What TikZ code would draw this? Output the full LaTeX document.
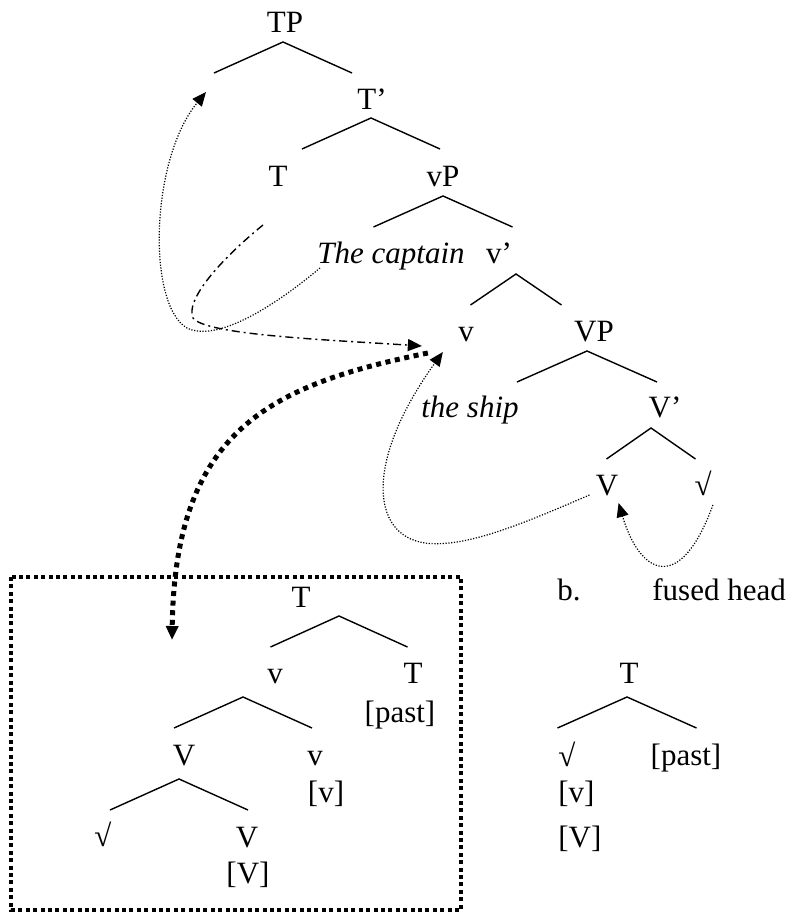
\documentclass[tikz,border=0pt]{standalone}
\usepackage{fontspec}
\setmainfont{Liberation Serif}
\usetikzlibrary{calc,arrows.meta}
\tikzset{
  every node/.style={anchor=base, inner sep=0pt},
  branchline/.style={line width=0.7pt},
  trace/.style={line width=0.6pt, dash pattern=on 0.6pt off 0.8pt},
  dashdot/.style={line width=0.7pt, dash pattern=on 4pt off 2pt on 1pt off 2pt},
  thickdots/.style={line width=2.5pt, dash pattern=on 2.5pt off 2.3pt},
  framebox/.style={line width=2pt, dash pattern=on 2pt off 1.7pt},
}
% #1 node, #2/#3 shift of the top from its base, #4 half width
\newcommand{\branch}[4]{%
  \draw[branchline] ($(#1.base)+(#2-#4,#3+31)$) -- ($(#1.base)+(#2,#3)$) -- ($(#1.base)+(#2+#4,#3+31)$);}
\begin{document}
\begin{tikzpicture}[x=0.5pt, y=-0.5pt, font=\fontsize{15.5}{18}\selectfont,
  >={Triangle[length=7pt,width=6pt]}]
  \useasboundingbox (0,0) rectangle (790,913);
  % a. tree
  \node (TP) at (285,33) {TP};
  \node (Tbar) at (372,110) {T'};
  \node (T) at (278,187) {T};
  \node (vP) at (443,187) {vP};
  \node (captain) at (391,264) {\itshape The captain};
  \node (vbar) at (499,264) {v'};
  \node (v) at (466,342) {v};
  \node (VP) at (594,342) {VP};
  \node (ship) at (470,418) {\itshape the ship};
  \node (Vbar) at (665,418) {V'};
  \node (V) at (607,495) {V};
  \node (root) at (703,495) {√};
  \branch{TP}{-2}{9}{69}
  \branch{Tbar}{-1}{8}{69}
  \branch{vP}{0}{9}{69.5}
  \branch{vbar}{17}{10}{45.5}
  \branch{VP}{-7}{9}{70}
  \branch{Vbar}{-14}{10}{44.5}
  \coordinate (spec) at (206,92);
  \coordinate (Tfoot) at (263,225);
  \coordinate (boxtip) at (172,640);
  \draw[trace,->] ($(captain.base west)+(3,4)$) .. controls (270,310) and (215,342) .. (187,328)
    .. controls (147,305) and (150,160) .. (spec);
  \draw[dashdot,->] (Tfoot) .. controls (220,260) and (185,300) .. (193,318)
    .. controls (205,335) and (330,340) .. ($(v.base west)+(-36,4)$);
  \draw[trace,->] ($(V.base west)+(-6,0)$) .. controls (520,525) and (465,548) .. (425,543)
    .. controls (370,535) and (365,460) .. ($(v.base west)+(-15,10)$);
  \draw[trace,->] ($(root.base east)+(1,10)$) .. controls (680,595) and (640,575) .. ($(V.base east)+(0,8)$);
  \draw[thickdots,->] ($(v.base west)+(-30,11)$) .. controls (270,385) and (175,430) .. (boxtip);
  % boxed complex head
  \draw[framebox] (11,577) rectangle (461,910);
  \node (bT) at (301,607) {T};
  \node (bv) at (275,683) {v};
  \node (bTT) at (413,683) {T};
  \node (bpast) at (400,722) {[past]};
  \node (bV) at (184,765) {V};
  \node (bvv) at (315,765) {v};
  \node (bvf) at (326,802) {[v]};
  \node (broot) at (103,846) {√};
  \node (bVV) at (247,847) {V};
  \node (bVf) at (248,883) {[V]};
  \branch{bT}{38}{9}{68.5}
  \branch{bv}{-32}{14}{69}
  \branch{bV}{-5}{14}{69}
  % b. fused head
  \node (blabel) at (569,600) {b.};
  \node[anchor=base west] (fused) at (652,600) {fused head};
  \node (rT) at (629,683) {T};
  \node[anchor=base west] (rroot) at (558,766) {√};
  \node (rpast) at (686,765) {[past]};
  \node[anchor=base west] (rvf) at (558,802) {[v]};
  \node[anchor=base west] (rVf) at (558,847) {[V]};
  \branch{rT}{-2}{14}{69.5}
\end{tikzpicture}
\end{document}
